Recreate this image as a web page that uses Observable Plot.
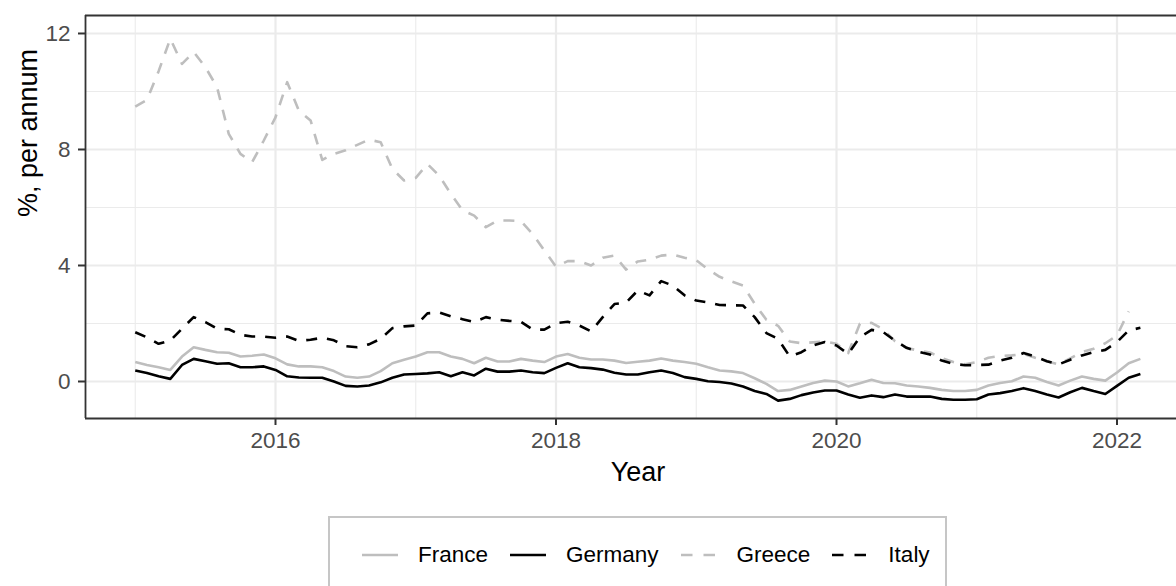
<!DOCTYPE html>
<html>
<head>
<meta charset="utf-8">
<script src="https://cdn.jsdelivr.net/npm/d3@7"></script>
<script src="https://cdn.jsdelivr.net/npm/@observablehq/plot@0.6"></script>
<style>
  html, body { margin: 0; padding: 0; background: #ffffff; }
  #wrap { position: relative; width: 1176px; height: 586px; overflow: hidden; font-family: "Liberation Sans", Arial, sans-serif; }
  #legend { position: absolute; left: 328px; top: 516px; width: 619px; height: 100px; box-sizing: border-box;
            border: 2px solid #c6c6c6; background: #fff; }
  #legend .items { position: absolute; top: 22px; left: 32px; display: flex; align-items: center; height: 30px; }
  #legend .item { display: flex; align-items: center; margin-right: 22px; }
  #legend .item span { font-size: 22.5px; color: #000; margin-left: 20px; }
</style>
</head>
<body>
<div id="wrap">
  <div id="chart"></div>
  <div id="legend"><div class="items"></div></div>
</div>
<script>
// ---- data (monthly, Jan 2015 – Mar 2022) ----
const startYear = 2015;
const countries = ["France", "Germany", "Greece", "Italy"];

const france = [0.67,0.57,0.49,0.40,0.86,1.18,1.09,1.01,0.99,0.86,0.89,0.93,
  0.80,0.59,0.52,0.52,0.49,0.36,0.17,0.13,0.17,0.36,0.63,0.75,
  0.86,1.01,1.01,0.86,0.78,0.63,0.82,0.69,0.69,0.78,0.72,0.67,
  0.86,0.95,0.82,0.76,0.76,0.72,0.64,0.68,0.72,0.79,0.72,0.67,
  0.61,0.49,0.38,0.35,0.29,0.11,-0.08,-0.33,-0.29,-0.17,-0.05,0.03,
  0.00,-0.17,-0.06,0.06,-0.05,-0.06,-0.14,-0.17,-0.22,-0.29,-0.33,-0.33,
  -0.29,-0.14,-0.05,0.01,0.17,0.13,-0.02,-0.14,0.03,0.17,0.09,0.03,
  0.31,0.63,0.78];

const germany = [0.38,0.29,0.18,0.09,0.57,0.78,0.70,0.61,0.63,0.49,0.49,0.52,
  0.40,0.18,0.14,0.13,0.13,0.00,-0.15,-0.17,-0.14,-0.03,0.13,0.24,
  0.26,0.28,0.32,0.18,0.32,0.21,0.44,0.34,0.34,0.38,0.32,0.29,
  0.47,0.63,0.49,0.46,0.41,0.30,0.24,0.24,0.32,0.38,0.29,0.15,
  0.09,0.01,-0.02,-0.07,-0.17,-0.33,-0.43,-0.66,-0.60,-0.47,-0.38,-0.31,
  -0.31,-0.45,-0.56,-0.48,-0.54,-0.45,-0.52,-0.52,-0.52,-0.60,-0.63,-0.63,
  -0.61,-0.45,-0.40,-0.33,-0.23,-0.33,-0.45,-0.55,-0.37,-0.22,-0.33,-0.43,
  -0.15,0.13,0.26];

const greece = [9.48,9.71,10.70,11.82,10.95,11.36,10.84,10.15,8.54,7.85,7.56,8.31,
  9.11,10.32,9.34,9.00,7.64,7.85,7.97,8.16,8.34,8.25,7.33,6.93,
  7.02,7.50,7.10,6.47,5.90,5.72,5.32,5.55,5.55,5.53,5.09,4.52,
  3.96,4.15,4.15,4.00,4.27,4.34,3.86,4.14,4.20,4.34,4.38,4.27,
  4.18,3.87,3.61,3.45,3.31,2.68,2.13,1.92,1.38,1.32,1.35,1.38,
  1.30,0.98,1.99,2.02,1.80,1.39,1.15,1.07,1.00,0.81,0.67,0.59,
  0.67,0.82,0.88,0.90,0.95,0.82,0.70,0.59,0.80,1.01,1.13,1.32,
  1.59,2.42];

const italy = [1.70,1.52,1.30,1.41,1.82,2.22,2.05,1.82,1.80,1.61,1.55,1.55,
  1.51,1.55,1.40,1.44,1.51,1.42,1.22,1.18,1.28,1.47,1.84,1.90,
  1.93,2.35,2.38,2.25,2.15,2.05,2.22,2.13,2.09,2.06,1.79,1.79,
  2.01,2.06,1.93,1.73,2.22,2.67,2.72,3.14,2.97,3.46,3.31,2.97,
  2.79,2.73,2.64,2.63,2.62,2.22,1.67,1.47,0.86,1.01,1.24,1.36,
  1.24,0.95,1.53,1.78,1.70,1.41,1.16,1.03,0.93,0.72,0.61,0.56,
  0.57,0.58,0.72,0.82,0.98,0.86,0.70,0.59,0.75,0.90,1.01,1.09,
  1.36,1.76,1.85];

const xTicks = [2016, 2018, 2020, 2022];
const xMinor = [2015, 2017, 2019, 2021];
const yTicks = [0, 4, 8, 12];
const yMinor = [2, 6, 10];

// styles per series
const seriesStyle = {
  France:  {stroke: "#bebebe", dash: null},
  Germany: {stroke: "#000000", dash: null},
  Greece:  {stroke: "#bebebe", dash: "11,10"},
  Italy:   {stroke: "#000000", dash: "11,10"}
};
const seriesValues = {France: france, Germany: germany, Greece: greece, Italy: italy};

const rows = countries.flatMap(c =>
  seriesValues[c].map((v, i) => ({country: c, date: startYear + i / 12, value: v})));

const xDomain = [2014.6453, 2022.4242];
const yDomain = [-1.276, 12.62];

const font = "'Liberation Sans', Arial, sans-serif";

const lineMarks = countries.map(c => Plot.line(rows.filter(d => d.country === c), {
  x: "date", y: "value",
  stroke: seriesStyle[c].stroke,
  strokeWidth: 2.6,
  strokeDasharray: seriesStyle[c].dash ?? undefined,
  strokeLinecap: "butt",
  strokeLinejoin: "round"
}));

const chart = Plot.plot({
  width: 1176,
  height: 500,
  marginLeft: 85,
  marginRight: 0,
  marginTop: 15,
  marginBottom: 82,
  style: {fontFamily: font, background: "#ffffff", overflow: "visible"},
  x: {domain: xDomain, axis: null},
  y: {domain: yDomain, axis: null},
  marks: [
    Plot.ruleX(xMinor, {stroke: "#ebebeb", strokeWidth: 1.1}),
    Plot.ruleY(yMinor, {stroke: "#ebebeb", strokeWidth: 1.1}),
    Plot.ruleX(xTicks, {stroke: "#ebebeb", strokeWidth: 2.2}),
    Plot.ruleY(yTicks, {stroke: "#ebebeb", strokeWidth: 2.2}),
    ...lineMarks,
    Plot.ruleY([yDomain[0], yDomain[1]], {stroke: "#333333", strokeWidth: 1.8}),
    Plot.ruleX([xDomain[0]], {stroke: "#333333", strokeWidth: 1.8}),
    Plot.axisX(xTicks, {tickSize: 7, tickPadding: 7, fontSize: 22.5, stroke: "#333333",
      strokeWidth: 2, fill: "#4d4d4d", label: null, tickFormat: d => String(d)}),
    Plot.axisY(yTicks, {tickSize: 7, tickPadding: 8, fontSize: 22.5, stroke: "#333333",
      strokeWidth: 2, fill: "#4d4d4d", label: null, tickFormat: d => String(d)}),
    Plot.text(["Year"], {frameAnchor: "bottom", dx: 7, dy: 54, fontSize: 27, fill: "#000",
      text: d => d, lineAnchor: "middle"}),
    Plot.text(["%, per annum"], {frameAnchor: "left", dx: -57, fontSize: 27, fill: "#000",
      text: d => d, rotate: -90, lineAnchor: "middle"})
  ]
});
document.getElementById("chart").appendChild(chart);

// ---- legend ----
const items = document.querySelector("#legend .items");
for (const c of countries) {
  const s = seriesStyle[c];
  const item = document.createElement("div");
  item.className = "item";
  const ns = "http://www.w3.org/2000/svg";
  const svg = document.createElementNS(ns, "svg");
  svg.setAttribute("width", "36");
  svg.setAttribute("height", "10");
  const ln = document.createElementNS(ns, "line");
  ln.setAttribute("x1", "0"); ln.setAttribute("x2", "36");
  ln.setAttribute("y1", "5"); ln.setAttribute("y2", "5");
  ln.setAttribute("stroke", s.stroke);
  ln.setAttribute("stroke-width", "2.6");
  if (s.dash) ln.setAttribute("stroke-dasharray", "11.5,11");
  svg.appendChild(ln);
  const label = document.createElement("span");
  label.textContent = c;
  item.appendChild(svg);
  item.appendChild(label);
  items.appendChild(item);
}
</script>
</body>
</html>
